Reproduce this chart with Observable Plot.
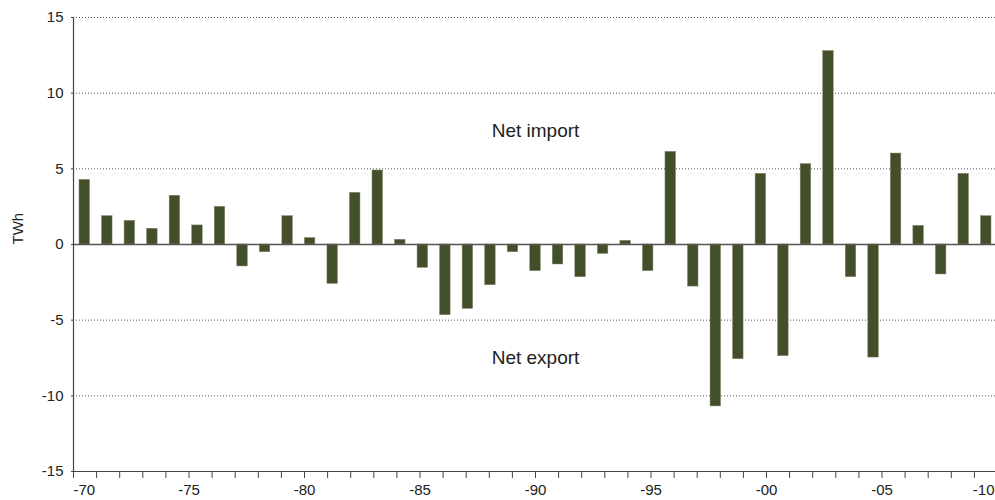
<!DOCTYPE html>
<html><head><meta charset="utf-8">
<script src="https://cdn.jsdelivr.net/npm/d3@7"></script>
<script src="https://cdn.jsdelivr.net/npm/@observablehq/plot@0.6"></script>
<style>body{margin:0;background:#fff;}</style>
</head><body><div id="chart"></div>
<script>
const years = [1970,1971,1972,1973,1974,1975,1976,1977,1978,1979,
  1980,1981,1982,1983,1984,1985,1986,1987,1988,1989,
  1990,1991,1992,1993,1994,1995,1996,1997,1998,1999,
  2000,2001,2002,2003,2004,2005,2006,2007,2008,2009,2010];
const values = [4.27,1.87,1.56,1.04,3.22,1.26,2.49,-1.45,-0.51,1.87,
  0.42,-2.6,3.41,4.89,0.31,-1.54,-4.67,-4.25,-2.69,-0.51,
  -1.76,-1.32,-2.16,-0.62,0.24,-1.76,6.12,-2.78,-10.7,-7.58,
  4.67,-7.38,5.31,12.78,-2.16,-7.47,6.01,1.23,-1.98,4.67,1.87];
const tickYears = [1970,1975,1980,1985,1990,1995,2000,2005,2010];
const tickLabels = ["-70","-75","-80","-85","-90","-95","-00","-05","-10"];
const yTicks = [-15,-10,-5,0,5,10,15];
const yLabel = "TWh";
const notes = [{text:"Net import", x:1990, y:7.5},{text:"Net export", x:1990, y:-7.5}];

const n = years.length;
const first = years[0], last = years[n-1];
// bars sit in n equal slots spanning the same width as the year axis
const slot = (last - first) / n;
const rows = years.map((yr, i) => ({
  year: yr, value: values[i],
  x1: first + (i + 0.5) * slot - 0.227,
  x2: first + (i + 0.5) * slot + 0.227
}));
const labels = tickYears.map((yr, i) => ({year: yr, label: tickLabels[i]}));

const chart = Plot.plot({
  width: 995, height: 500,
  marginLeft: 73, marginRight: 0, marginTop: 17, marginBottom: 29,
  style: {fontFamily: "'Liberation Sans', Arial, sans-serif", fontSize: "15px", color: "#222", background: "#fff"},
  x: {type: "linear", domain: [first, last], range: [73, 997], axis: null},
  y: {domain: [-15, 15], axis: null},
  marks: [
    Plot.gridY(yTicks.filter(d => d > -15), {stroke: "#555", strokeOpacity: 1, strokeDasharray: "1,2"}),
    Plot.rectY(rows, {x1: "x1", x2: "x2", y1: 0, y2: "value", fill: "#434e2b", stroke: "#7d8463", strokeWidth: 0.5}),
    Plot.ruleY([0], {stroke: "#555", strokeWidth: 1.5}),
    Plot.ruleY([-15], {stroke: "#444", strokeWidth: 1.2}),
    Plot.ruleX([first], {stroke: "#444", strokeWidth: 1.2}),
    Plot.axisX({ticks: years, tickSize: 7, tickFormat: () => "", stroke: "#444"}),
    Plot.text(labels.slice(0, 1), {x: "year", text: "label", frameAnchor: "bottom", dy: 23, textAnchor: "start", fontSize: 15}),
    Plot.text(labels.slice(1, -1), {x: "year", text: "label", frameAnchor: "bottom", dy: 23, textAnchor: "middle", fontSize: 15}),
    Plot.text(labels.slice(-1), {x: "year", text: "label", frameAnchor: "bottom", dy: 23, dx: -3, textAnchor: "end", fontSize: 15}),
    Plot.axisY({ticks: yTicks, tickSize: 2, tickPadding: 8, tickFormat: d => String(d), label: null, stroke: "#444", fontSize: 15}),
    Plot.text([yLabel], {frameAnchor: "left", dx: -55, rotate: -90, fontSize: 15}),
    Plot.text(notes, {x: "x", y: "y", text: "text", fontSize: 19})
  ]
});
document.getElementById("chart").append(chart);
</script>
</body></html>
